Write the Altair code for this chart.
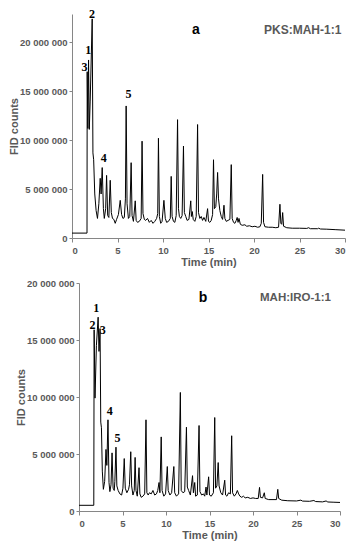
import altair as alt
import pandas as pd

# Chromatogram a (PKS:MAH-1:1): (time min, FID counts in millions)
trace_a = [
    (0.0, 0.5), (1.65, 0.5), (1.67, 17.0), (1.74, 11.2), (1.82, 18.2), (1.9, 11.1), (2.0, 14.0),
    (2.22, 22.4), (2.30, 8.7), (2.38, 8.0), (2.5, 4.5), (2.65, 2.8), (2.8, 2.0), (2.95, 3.5),
    (3.1, 6.1), (3.2, 4.5), (3.32, 7.2), (3.45, 3.0), (3.55, 2.0), (3.7, 3.0), (3.8, 6.4),
    (3.92, 2.3), (4.05, 2.1), (4.2, 5.9), (4.32, 2.6), (4.45, 2.0), (4.6, 1.9), (4.75, 1.5),
    (4.9, 1.9), (5.1, 2.4), (5.3, 3.85), (5.45, 2.4), (5.6, 2.0), (5.75, 2.1), (5.87, 4.0),
    (5.95, 13.5), (6.05, 3.5), (6.2, 2.0), (6.35, 2.2), (6.5, 7.7), (6.6, 2.3), (6.75, 1.7),
    (6.95, 3.8), (7.05, 1.8), (7.2, 1.6), (7.4, 1.7), (7.6, 2.0), (7.7, 9.9), (7.8, 2.5),
    (7.95, 1.9), (8.1, 1.8), (8.3, 2.0), (8.5, 1.6), (8.7, 1.8), (8.9, 1.5), (9.1, 1.7),
    (9.3, 2.0), (9.42, 2.5), (9.5, 10.2), (9.6, 2.2), (9.75, 1.5), (9.9, 1.7), (10.1, 3.85),
    (10.25, 2.0), (10.4, 1.6), (10.6, 1.7), (10.8, 2.0), (10.9, 6.3), (11.0, 2.2), (11.15, 1.7),
    (11.3, 1.6), (11.45, 2.3), (11.6, 12.1), (11.7, 3.0), (11.8, 2.2), (11.95, 2.0), (12.1, 2.3),
    (12.25, 9.4), (12.35, 2.6), (12.5, 2.2), (12.65, 1.8), (12.85, 1.9), (13.05, 3.8), (13.12, 2.2),
    (13.22, 2.7), (13.32, 1.9), (13.5, 1.7), (13.65, 2.2), (13.8, 11.6), (13.9, 2.6), (14.05, 2.0),
    (14.2, 2.2), (14.35, 1.8), (14.5, 2.1), (14.7, 1.7), (14.9, 3.0), (15.0, 1.7), (15.15, 1.6),
    (15.3, 1.8), (15.45, 2.4), (15.55, 8.0), (15.65, 3.0), (15.8, 3.2), (15.9, 4.5), (16.0, 6.7),
    (16.1, 4.0), (16.25, 2.8), (16.4, 2.2), (16.55, 1.9), (16.7, 3.35), (16.8, 2.0), (16.95, 1.7),
    (17.15, 1.8), (17.35, 1.9), (17.5, 7.5), (17.6, 2.0), (17.75, 1.6), (17.9, 1.5), (18.05, 1.8),
    (18.15, 2.1), (18.25, 1.6), (18.35, 2.0), (18.5, 1.4), (18.7, 1.3), (19.0, 1.35), (19.2, 1.2),
    (19.5, 1.25), (19.8, 1.15), (20.1, 1.2), (20.4, 1.1), (20.65, 1.15), (20.8, 1.5), (20.95, 6.5),
    (21.05, 1.6), (21.2, 1.15), (21.6, 1.1), (22.0, 1.1), (22.4, 1.05), (22.7, 1.1), (22.85, 3.45),
    (22.95, 1.5), (23.05, 1.4), (23.15, 2.6), (23.25, 1.2), (23.6, 1.05), (24.2, 1.0), (25.0, 1.0),
    (25.8, 0.98), (26.0, 1.05), (26.2, 0.95), (27.0, 0.95), (27.1, 1.0), (27.3, 0.92), (28.0, 0.9),
    (29.0, 0.85), (30.0, 0.8),
]

# Chromatogram b (MAH:IRO-1:1)
trace_b = [
    (0.0, 0.5), (1.70, 0.5), (1.74, 15.9), (1.84, 9.9), (2.0, 14.5), (2.2, 17.0), (2.3, 14.0),
    (2.42, 16.0), (2.5, 7.8), (2.58, 7.3), (2.68, 3.5), (2.8, 1.9), (2.95, 2.6), (3.1, 5.4),
    (3.2, 4.0), (3.33, 8.0), (3.45, 2.5), (3.55, 1.7), (3.68, 2.3), (3.8, 5.1), (3.92, 2.0),
    (4.05, 1.8), (4.12, 2.6), (4.25, 5.6), (4.35, 2.2), (4.5, 1.8), (4.7, 1.5), (4.9, 1.4),
    (5.05, 2.0), (5.2, 4.6), (5.32, 2.0), (5.5, 1.6), (5.7, 1.9), (5.8, 2.3), (5.95, 5.2),
    (6.05, 2.2), (6.2, 1.4), (6.35, 1.8), (6.45, 4.7), (6.55, 1.8), (6.7, 1.3), (6.9, 3.8),
    (7.0, 1.5), (7.15, 1.2), (7.35, 1.3), (7.55, 1.5), (7.7, 8.0), (7.8, 1.6), (7.95, 1.4),
    (8.1, 1.6), (8.3, 1.5), (8.5, 1.8), (8.7, 1.4), (8.9, 1.5), (9.05, 1.8), (9.2, 2.5),
    (9.3, 1.6), (9.45, 6.5), (9.55, 1.8), (9.75, 1.3), (9.95, 1.5), (10.15, 3.9), (10.25, 1.8),
    (10.45, 1.4), (10.65, 1.6), (10.9, 3.9), (11.0, 1.6), (11.2, 1.3), (11.45, 1.5), (11.65, 10.4),
    (11.75, 1.8), (11.95, 1.6), (12.15, 1.7), (12.35, 7.35), (12.45, 2.1), (12.6, 1.8), (12.8, 1.4),
    (13.05, 3.1), (13.15, 1.6), (13.3, 2.5), (13.4, 1.3), (13.6, 1.4), (13.8, 7.5), (13.9, 1.7),
    (14.1, 1.4), (14.3, 1.5), (14.45, 1.3), (14.6, 2.1), (14.7, 1.4), (14.9, 3.0), (15.0, 1.4),
    (15.2, 1.3), (15.45, 1.6), (15.6, 8.2), (15.7, 2.0), (15.85, 2.2), (16.0, 4.25), (16.1, 2.2),
    (16.3, 1.6), (16.5, 1.4), (16.75, 2.7), (16.85, 1.4), (17.0, 1.3), (17.2, 1.6), (17.4, 1.5),
    (17.55, 6.6), (17.65, 1.6), (17.85, 1.3), (18.05, 1.5), (18.2, 1.8), (18.35, 1.5), (18.5, 1.3),
    (18.7, 1.2), (18.9, 1.3), (19.1, 1.15), (19.4, 1.2), (19.7, 1.1), (20.0, 1.15), (20.3, 1.1),
    (20.6, 1.1), (20.75, 2.07), (20.85, 1.2), (21.1, 1.15), (21.3, 1.6), (21.4, 1.1), (21.8, 1.0),
    (22.3, 1.0), (22.7, 1.0), (22.85, 1.9), (22.95, 1.1), (23.3, 0.95), (24.0, 0.9), (25.0, 0.88),
    (25.5, 0.95), (25.7, 0.87), (26.5, 0.85), (27.0, 0.92), (27.2, 0.83), (28.0, 0.8), (28.4, 0.88),
    (28.6, 0.79), (29.3, 0.77), (30.0, 0.75),
]

# Peak numbers: (label, time, FID millions)
peaks_a = [("2", 2.2, 22.9), ("1", 1.79, 19.2), ("3", 1.38, 17.5), ("5", 6.2, 14.7), ("4", 3.48, 8.2)]
peaks_b = [("1", 1.97, 17.8), ("2", 1.56, 16.3), ("3", 2.73, 15.9), ("4", 3.53, 8.8), ("5", 4.43, 6.4)]

panel_tags = ["a", "b"]
panel_names = ["PKS:MAH-1:1", "MAH:IRO-1:1"]
x_ticks = [0, 5, 10, 15, 20, 25, 30]
y_ticks = [0, 5, 10, 15, 20]

GRAY = "#595959"
AXC = "#868686"


def panel(trace, peaks, tag, name, width, height, xrange, ymax, yoffset, tag_xy, name_xy, name_size):
    df = pd.DataFrame(trace, columns=["time", "fid"])
    dl = pd.DataFrame(peaks, columns=["lab", "time", "fid"])
    xs = alt.Scale(domain=[0, 30], nice=False, **({"range": xrange} if xrange else {}))
    ys = alt.Scale(domain=[0, ymax], nice=False)
    x = alt.X("time:Q", scale=xs, axis=alt.Axis(values=x_ticks, title="Time (min)", tickSize=4,
                                                 labelPadding=3, titlePadding=2))
    y = alt.Y("fid:Q", scale=ys, axis=alt.Axis(values=y_ticks, title="FID counts", tickSize=3,
                                                labelPadding=2, titlePadding=0, offset=yoffset,
                                                labelExpr="datum.value == 0 ? '0' : datum.value + ' 000 000'"))
    line = alt.Chart(df).mark_line(color="black", strokeWidth=1, clip=False).encode(x=x, y=y)
    nums = alt.Chart(dl).mark_text(font="Liberation Serif", fontWeight="bold", fontSize=12,
                                   color="black").encode(x="time:Q", y="fid:Q", text="lab:N")
    tg = alt.Chart(pd.DataFrame({"t": [tag]})).mark_text(
        font="Liberation Sans", fontWeight="bold", fontSize=14, color="black"
    ).encode(x=alt.value(tag_xy[0]), y=alt.value(tag_xy[1]), text="t:N")
    nm = alt.Chart(pd.DataFrame({"t": [name]})).mark_text(
        font="Liberation Sans", fontWeight="bold", fontSize=name_size, color=GRAY, align="left"
    ).encode(x=alt.value(name_xy[0]), y=alt.value(name_xy[1]), text="t:N")
    return alt.layer(line, nums, tg, nm).properties(width=width, height=height)


pa = panel(trace_a, peaks_a, panel_tags[0], panel_names[0], 273, 224, None, 22.9, 0,
           (124, 16), (192, 16), 12)
pb = panel(trace_b, peaks_b, panel_tags[1], panel_names[1], 268, 228, [7, 268], 20, -7,
           (131, 15), (188, 15), 11.5)

chart = alt.vconcat(pa, pb, spacing=45, bounds="flush").properties(
    padding={"left": 0, "top": 0, "right": 0, "bottom": 0}
).configure_axis(
    grid=False, domainColor=AXC, tickColor=AXC,
    labelFont="Liberation Sans", labelFontWeight="bold", labelFontSize=9.5, labelColor=GRAY,
    titleFont="Liberation Sans", titleFontWeight="bold", titleFontSize=11, titleColor=GRAY,
).configure_view(stroke=None)

chart.save("out.html", embed_options={"renderer": "svg", "actions": False})
